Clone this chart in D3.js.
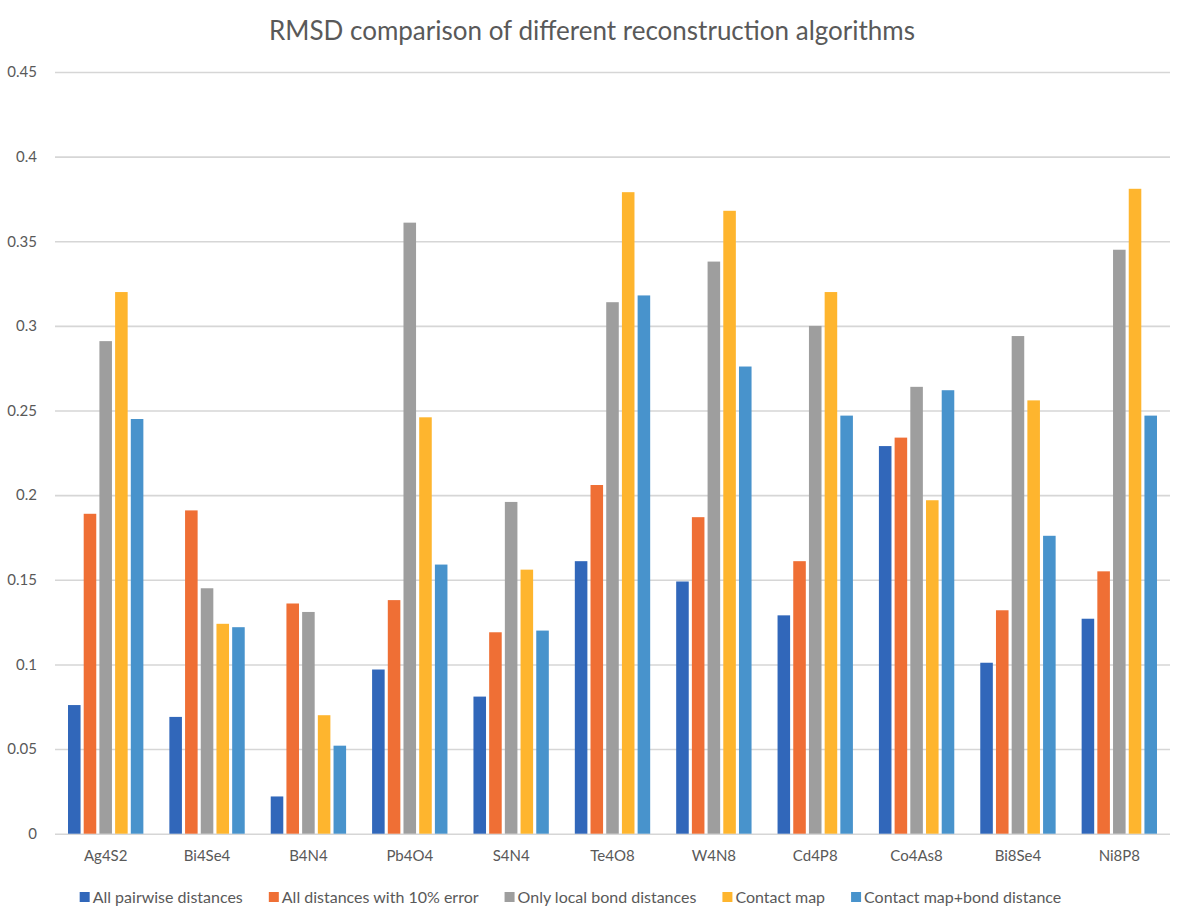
<!DOCTYPE html>
<html>
<head>
<meta charset="utf-8">
<script src="https://cdn.jsdelivr.net/npm/d3@7"></script>
<style>
  body { margin: 0; background: #fff; }
  svg text { font-family: Lato, "Open Sans", sans-serif; fill: #595959; }
</style>
</head>
<body>
<div id="chart"></div>
<script>
// data
var categories = ['Ag4S2', 'Bi4Se4', 'B4N4', 'Pb4O4', 'S4N4', 'Te4O8', 'W4N8', 'Cd4P8', 'Co4As8', 'Bi8Se4', 'Ni8P8'];
var seriesNames = ['All pairwise distances', 'All distances with 10% error', 'Only local bond distances', 'Contact map', 'Contact map+bond distance'];
var allPairwise   = [0.076, 0.069, 0.022, 0.097, 0.081, 0.161, 0.149, 0.129, 0.229, 0.101, 0.127];
var tenPctError   = [0.189, 0.191, 0.136, 0.138, 0.119, 0.206, 0.187, 0.161, 0.234, 0.132, 0.155];
var localBond     = [0.291, 0.145, 0.131, 0.361, 0.196, 0.314, 0.338, 0.300, 0.264, 0.294, 0.345];
var contactMap    = [0.320, 0.124, 0.070, 0.246, 0.156, 0.379, 0.368, 0.320, 0.197, 0.256, 0.381];
var contactBond   = [0.245, 0.122, 0.052, 0.159, 0.120, 0.318, 0.276, 0.247, 0.262, 0.176, 0.247];
var yTicks = [0, 0.05, 0.1, 0.15, 0.2, 0.25, 0.3, 0.35, 0.4, 0.45];
var colors = ['#3167BA', '#EF6F35', '#9E9E9E', '#FEB52E', '#4893CC'];

var seriesValues = [allPairwise, tenPctError, localBond, contactMap, contactBond];

var W = 1178, H = 922;
// plot box (note: 'top' is a reserved window global, so use other names)
var plotLeft = 55, plotRight = 1170, plotTop = 72, plotBottom = 833.7;

var svg = d3.select('#chart').append('svg')
  .attr('width', W)
  .attr('height', H);

var x0 = d3.scaleBand().domain(categories).range([plotLeft, plotRight]);
var x1 = d3.scaleBand().domain(d3.range(seriesNames.length))
  .range([13, x0.bandwidth() - 13])
  .paddingInner(0.2);
var y = d3.scaleLinear().domain([0, 0.45]).range([plotBottom, plotTop]);

// title
svg.append('text')
  .attr('x', 592)
  .attr('y', 40)
  .attr('text-anchor', 'middle')
  .style('font-size', '26px')
  .text('RMSD comparison of different reconstruction algorithms');

// gridlines + y tick labels
var yAxis = d3.axisLeft(y)
  .tickValues(yTicks)
  .tickSize(-(plotRight - plotLeft))
  .tickPadding(18)
  .tickFormat(function(d){ return d === 0 ? '0' : String(+d.toFixed(2)); });

var gy = svg.append('g')
  .attr('transform', 'translate(' + plotLeft + ',0)')
  .call(yAxis);
gy.select('.domain').remove();
gy.selectAll('.tick line')
  .attr('stroke', '#D6D6D6')
  .attr('stroke-width', 1.6);
gy.selectAll('.tick text')
  .style('font-size', '15px')
  .attr('fill', '#595959');

// bars
var groups = svg.append('g').selectAll('g')
  .data(categories)
  .enter().append('g')
  .attr('transform', function(d){ return 'translate(' + x0(d) + ',0)'; });

groups.selectAll('rect')
  .data(function(d, i){
    return seriesValues.map(function(vals, s){ return {s: s, v: vals[i]}; });
  })
  .enter().append('rect')
  .attr('x', function(d){ return x1(d.s); })
  .attr('width', x1.bandwidth())
  .attr('y', function(d){ return y(d.v); })
  .attr('height', function(d){ return plotBottom - y(d.v); })
  .attr('fill', function(d){ return colors[d.s]; });

// x axis labels
var xAxis = d3.axisBottom(x0).tickSize(0).tickPadding(17);
var gx = svg.append('g')
  .attr('transform', 'translate(0,' + plotBottom + ')')
  .call(xAxis);
gx.select('.domain').remove();
gx.selectAll('.tick text')
  .style('font-size', '15px')
  .attr('fill', '#595959');

// legend
var legend = svg.append('g');
var items = legend.selectAll('g')
  .data(seriesNames)
  .enter().append('g');

items.append('rect')
  .attr('width', 10)
  .attr('height', 10)
  .attr('y', 892)
  .attr('fill', function(d, i){ return colors[i]; });

items.append('text')
  .attr('x', 13)
  .attr('y', 902.5)
  .style('font-size', '16px')
  .text(function(d){ return d; });

var gap = 26, pos = 0, widths = [];
items.each(function(){
  widths.push(13 + d3.select(this).select('text').node().getComputedTextLength());
});
var total = d3.sum(widths) + gap * (widths.length - 1);
var start = 570.5 - total / 2;
items.attr('transform', function(d, i){
  var t = 'translate(' + (start + pos) + ',0)';
  pos += widths[i] + gap;
  return t;
});
</script>
</body>
</html>
